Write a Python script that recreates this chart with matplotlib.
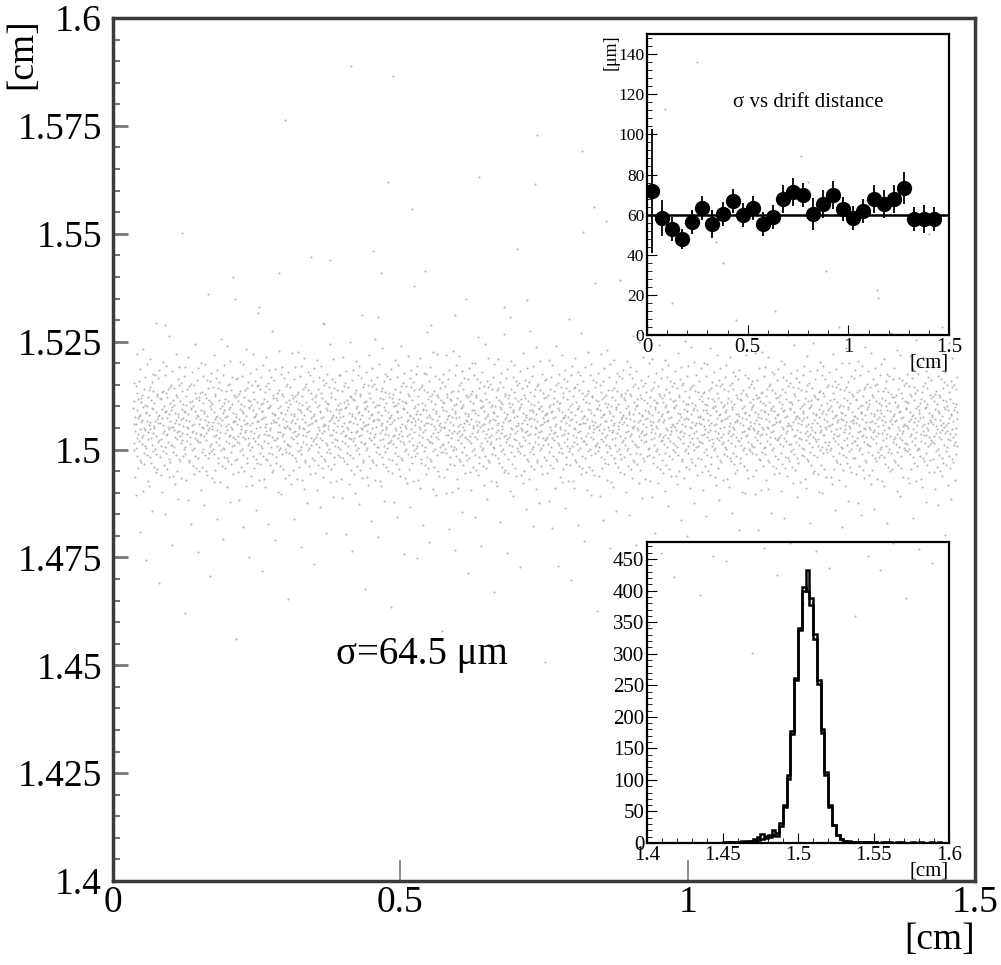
import numpy as np
import matplotlib.pyplot as plt
from matplotlib.ticker import MultipleLocator

plt.rcParams['font.family'] = ['Liberation Serif', 'DejaVu Serif']

# main plot ticks
main_xticks = [0, 0.5, 1, 1.5]
main_xlabels = ['0', '0.5', '1', '1.5']
main_yticks = [1.4, 1.425, 1.45, 1.475, 1.5, 1.525, 1.55, 1.575, 1.6]
main_ylabels = ['1.4', '1.425', '1.45', '1.475', '1.5', '1.525', '1.55', '1.575', '1.6']

# sigma vs drift distance (inset, top)
drift_x = [0.025, 0.075, 0.125, 0.175, 0.225, 0.275, 0.325, 0.375, 0.425, 0.475,
           0.525, 0.575, 0.625, 0.675, 0.725, 0.775, 0.825, 0.875, 0.925, 0.975,
           1.025, 1.075, 1.125, 1.175, 1.225, 1.275, 1.325, 1.375, 1.425]
sigma_um = [71.8, 58.2, 53.0, 48.0, 56.3, 63.2, 55.2, 60.5, 66.8, 59.8,
            63.2, 55.2, 58.8, 68.0, 71.3, 69.8, 60.2, 65.2, 69.8, 62.7,
            58.5, 61.7, 67.7, 65.2, 67.7, 73.5, 58.0, 58.0, 57.7]
sigma_err = [31, 9, 6, 5, 6, 6, 7, 6, 6, 6,
             6, 6, 6, 7, 7, 6, 8, 7, 7, 6,
             6, 6, 7, 7, 7, 8, 6, 7, 6]
fit_sigma = 60

# residual histograms (inset, bottom), bins of 0.0025 cm from 1.4 to 1.6
hist_a = [0] * 20 + [1, 2, 1, 2, 2, 3, 4, 3, 6, 9,
                     14, 11, 12, 20, 16, 32, 60, 108, 178, 262,
                     340, 400, 432, 388, 332, 258, 180, 112, 60, 29,
                     13, 6, 3, 3, 2, 2, 1, 2, 1, 1,
                     1, 0, 1, 0, 1, 0, 0, 1, 0, 0,
                     1, 0, 0, 0, 0, 1, 0, 0, 0, 0]
hist_b = [0] * 20 + [0, 1, 1, 1, 2, 2, 2, 3, 4, 5,
                     7, 8, 9, 12, 11, 27, 57, 102, 172, 258,
                     338, 405, 400, 378, 324, 252, 175, 108, 57, 28,
                     13, 6, 3, 2, 2, 1, 1, 1, 1, 0,
                     1, 0, 0, 1, 0, 0, 1, 0, 0, 0,
                     0, 0, 1, 0, 0, 0, 0, 1, 0, 0]

# isolated hits far from the band
outlier_x = [0.414, 0.488, 0.738, 0.817, 0.637, 0.734, 0.521, 0.858, 0.818, 0.452,
             0.377, 0.288, 0.467, 0.543, 0.209, 0.213, 0.252, 0.680, 0.720, 0.838,
             0.595, 0.691, 0.462, 0.365, 0.554, 0.091, 1.05, 1.21, 1.33, 0.96]
outlier_y = [1.589, 1.5865, 1.5728, 1.5693, 1.5631, 1.5616, 1.5557, 1.5529, 1.5504, 1.5459,
             1.544, 1.541, 1.541, 1.5414, 1.540, 1.535, 1.5317, 1.533, 1.5346, 1.5386,
             1.5312, 1.5307, 1.5307, 1.5293, 1.5288, 1.5288, 1.548, 1.562, 1.537, 1.579]

hist_lo, hist_hi = 1.4, 1.6
edges = np.linspace(hist_lo, hist_hi, len(hist_a) + 1)


def halton(i, base):
    f, r = 1.0, 0.0
    while i > 0:
        f /= base
        r += f * (i % base)
        i //= base
    return r


def band_points(counts, edges, x0=0.035, x1=1.47):
    """Spread the hit counts of each y bin along the drift direction."""
    xs, ys = [], []
    i = 0
    for k, c in enumerate(counts):
        for j in range(c):
            i += 1
            xs.append(x0 + (x1 - x0) * halton(i, 2))
            ys.append(edges[k] + (edges[k + 1] - edges[k]) * halton(i, 3))
    return np.array(xs), np.array(ys)


fig = plt.figure(figsize=(10.01, 9.65), dpi=100)

# ---- main scatter ----
ax = fig.add_axes([0.1129, 0.0870, 0.8611, 0.8943])
bx, by = band_points(hist_a, edges)
ax.scatter(bx, by, s=2.2, color='#b4b4b4', linewidths=0)
ax.scatter(outlier_x, outlier_y, s=2.2, color='#b4b4b4', linewidths=0)
ax.set_xlim(0, 1.5)
ax.set_ylim(1.4, 1.6)
ax.set_xticks(main_xticks)
ax.set_xticklabels(main_xlabels)
ax.set_yticks(main_yticks)
ax.set_yticklabels(main_ylabels)
ax.yaxis.set_minor_locator(MultipleLocator(0.005))
ax.tick_params(axis='y', which='major', direction='in', length=11, width=2,
               color='#777777', labelsize=27, pad=8)
ax.tick_params(axis='y', which='minor', direction='in', length=5, width=1.5,
               color='#777777')
ax.tick_params(axis='x', which='major', direction='in', length=15, width=1.2,
               color='#777777', labelsize=27, pad=3)
for s in ax.spines.values():
    s.set_linewidth(2.5)
    s.set_color('#3a3a3a')
ax.text(1.0, -0.048, '[cm]', transform=ax.transAxes, ha='right', va='top', fontsize=27)
ax.text(-0.106, 1.0, '[cm]', transform=ax.transAxes, rotation=90,
        ha='center', va='top', fontsize=27)
ax.text(0.358, 0.262, 'σ=64.5 μm', transform=ax.transAxes, ha='center', va='center',
        fontsize=28)

# ---- inset: sigma vs drift distance ----
ax1 = fig.add_axes([0.6464, 0.6528, 0.3017, 0.3119], facecolor='none')
ax1.axhline(fit_sigma, color='black', lw=1.8, zorder=2)
ax1.errorbar(drift_x, sigma_um, yerr=sigma_err, xerr=0.025, fmt='o', color='black',
             ms=10, elinewidth=1.3, capsize=0, zorder=3)
ax1.set_xlim(0, 1.5)
ax1.set_ylim(0, 150)
ax1.xaxis.set_minor_locator(MultipleLocator(0.1))
ax1.yaxis.set_major_locator(MultipleLocator(20))
ax1.yaxis.set_minor_locator(MultipleLocator(4))
ax1.set_xticks([0, 0.5, 1, 1.5])
ax1.set_xticklabels(['0', '0.5', '1', '1.5'])
ax1.tick_params(axis='x', which='major', direction='in', length=7, labelsize=15, pad=2)
ax1.tick_params(axis='y', which='major', direction='in', length=7, labelsize=12.5, pad=2)
ax1.tick_params(which='minor', direction='in', length=3.5)
for s in ax1.spines.values():
    s.set_linewidth(1.6)
ax1.text(0.533, 0.771, 'σ vs drift distance', transform=ax1.transAxes,
         ha='center', va='center', fontsize=15)
ax1.text(1.0, -0.06, '[cm]', transform=ax1.transAxes, ha='right', va='top', fontsize=15)
ax1.text(-0.12, 1.0, '[μm]', transform=ax1.transAxes, rotation=90,
         ha='center', va='top', fontsize=13)

# ---- inset: residual distribution ----
ax2 = fig.add_axes([0.6464, 0.1264, 0.3017, 0.3119], facecolor='none')
ax2.stairs(hist_b, edges, color='black', lw=1.8)
ax2.stairs(hist_a, edges, color='black', lw=1.8)
ax2.set_xlim(hist_lo, hist_hi)
ax2.set_ylim(0, 477)
ax2.set_xticks([1.4, 1.45, 1.5, 1.55, 1.6])
ax2.set_xticklabels(['1.4', '1.45', '1.5', '1.55', '1.6'])
ax2.xaxis.set_minor_locator(MultipleLocator(0.01))
ax2.yaxis.set_major_locator(MultipleLocator(50))
ax2.yaxis.set_minor_locator(MultipleLocator(10))
ax2.tick_params(axis='both', which='major', direction='in', length=7, labelsize=15, pad=2)
ax2.tick_params(which='minor', direction='in', length=3.5)
for s in ax2.spines.values():
    s.set_linewidth(1.6)
ax2.text(1.0, -0.06, '[cm]', transform=ax2.transAxes, ha='right', va='top', fontsize=15)

fig.savefig('out.png', dpi=100)
